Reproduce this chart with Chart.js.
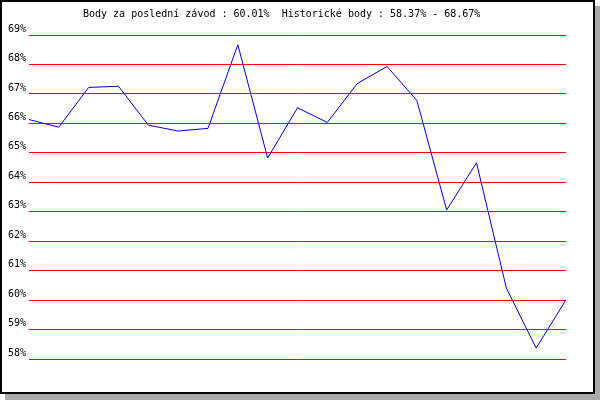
<!DOCTYPE html>
<html>
<head>
<meta charset="utf-8">
<script src="https://cdn.jsdelivr.net/npm/chart.js@4/dist/chart.umd.min.js"></script>
<style>
  body { margin: 0; background: #fff; }
  #ramecek {
    position: absolute; left: 0; top: 0;
    width: 591px; height: 390px;
    border: 2px solid #000;
    background: #fff;
    box-shadow: 5px 6px 0 0 #aaa;
  }
  #graf { position: absolute; left: 0; top: 0; }
</style>
</head>
<body>
<div id="ramecek"></div>
<canvas id="graf" width="600" height="400"></canvas>
<script>
const zavody = ['1', '2', '3', '4', '5', '6', '7', '8', '9', '10', '11', '12', '13', '14', '15', '16', '17', '18', '19'];
const body = [66.13, 65.87, 67.22, 67.26, 65.94, 65.74, 65.83, 68.67, 64.82, 66.53, 66.03, 67.35, 67.93, 66.78, 63.06, 64.66, 60.41, 58.37, 60.01];
const osaMin = 58;
const osaMax = 69;
const nadpis = 'Body za poslední závod : 60.01%  Historické body : 58.37% - 68.67%';

const pismo = '10px "DejaVu Sans Mono", monospace';

const nadpisPlugin = {
  id: 'nadpis',
  afterDraw(chart) {
    const c = chart.ctx;
    c.save();
    c.font = pismo;
    c.fillStyle = '#000';
    c.textAlign = 'left';
    c.textBaseline = 'alphabetic';
    c.fillText(nadpis, 83, 17);
    c.restore();
  }
};

const ctx = document.getElementById('graf').getContext('2d');

const chart = new Chart(ctx, {
  type: 'line',
  data: {
    labels: zavody,
    datasets: [{
      data: body,
      borderColor: '#0000dd',
      borderWidth: 1,
      pointRadius: 0,
      tension: 0,
      fill: false
    }]
  },
  options: {
    responsive: false,
    devicePixelRatio: 1,
    animation: false,
    layout: { padding: { top: 35, bottom: 41, right: 34, left: 0 } },
    plugins: {
      legend: { display: false },
      tooltip: { enabled: false }
    },
    scales: {
      x: {
        display: false,
        offset: false
      },
      y: {
        min: osaMin,
        max: osaMax,
        afterFit(scale) { scale.width = 29; },
        border: { display: false },
        grid: { color: '#ff0000', lineWidth: 1, drawTicks: false },
        ticks: {
          stepSize: 1,
          padding: 3,
          labelOffset: -6,
          color: '#000',
          font: { family: '"DejaVu Sans Mono", monospace', size: 10 },
          callback: v => v + '%'
        }
      }
    }
  },
  plugins: [nadpisPlugin]
});
</script>
</body>
</html>
